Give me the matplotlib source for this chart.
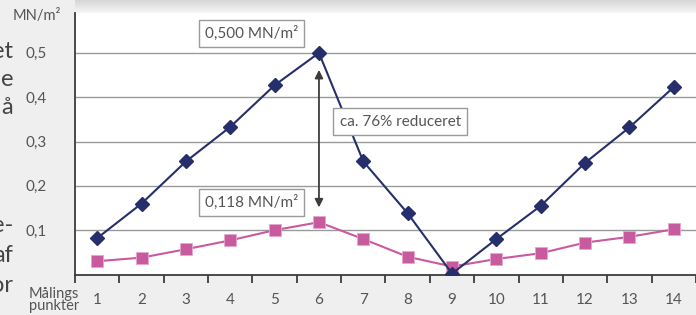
import matplotlib
matplotlib.use("Agg")
import matplotlib.pyplot as plt
import numpy as np
from matplotlib.colors import LinearSegmentedColormap

points = list(range(1, 15))
before = [0.082, 0.160, 0.255, 0.333, 0.427, 0.500, 0.255, 0.138, 0.002, 0.080, 0.155, 0.252, 0.332, 0.423]
after = [0.030, 0.038, 0.057, 0.077, 0.100, 0.118, 0.080, 0.040, 0.018, 0.035, 0.048, 0.072, 0.085, 0.102]
ytick_vals = [0.1, 0.2, 0.3, 0.4, 0.5]
ytick_labels = ["0,1", "0,2", "0,3", "0,4", "0,5"]

FONT = ["Lato", "DejaVu Sans"]
plt.rcParams['font.family'] = FONT

W, H = 696, 315
fig = plt.figure(figsize=(W / 100, H / 100), dpi=100)
fig.patch.set_facecolor("#efefef")

# top shadow gradient
gax = fig.add_axes([75 / W, 1 - 13 / H, 621 / W, 13 / H])
grad = np.linspace(0, 1, 50).reshape(-1, 1)
cm = LinearSegmentedColormap.from_list("g", ["#d6d6d6", "#f6f6f6"])
gax.imshow(grad, aspect="auto", cmap=cm, extent=[0, 1, 1, 0])
gax.axis("off")

ax = fig.add_axes([75 / W, (H - 274.5) / H, 621 / W, (274.5 - 13) / H])
ax.set_facecolor("white")
ax.set_xlim(0.5, 14.5)
ax.set_ylim(0, 0.59)

for v in ytick_vals:
    ax.axhline(v, color="#9a9a9a", lw=1.0, zorder=1)

navy = "#262f6b"
pink = "#c85a9e"
ax.plot(points, after, color=pink, lw=1.5, marker="s", ms=8, mec="#e8a6cf", mew=0.6, zorder=3)
ax.plot(points, before, color=navy, lw=1.5, marker="D", ms=7, mec=navy, zorder=4)

for s in ["top", "right"]:
    ax.spines[s].set_visible(False)
for s in ["left", "bottom"]:
    ax.spines[s].set_color("#3c3c3c")
    ax.spines[s].set_linewidth(1.3)

ax.set_yticks(ytick_vals)
ax.set_yticklabels(ytick_labels)
ax.tick_params(axis="y", length=0, pad=20, labelsize=11, colors="#555555")
ax.set_xticks(points)
ax.set_xticklabels([str(p) for p in points])
ax.tick_params(axis="x", which="major", length=0, pad=13, labelsize=11, colors="#555555")
ax.set_xticks(np.arange(0.5, 14.6, 1.0), minor=True)
ax.tick_params(axis="x", which="minor", length=6, width=1.3, color="#3c3c3c", direction="out")

# annotations
bbox = dict(boxstyle="square,pad=0.4", fc="white", ec="#9a9a9a", lw=1.0)
ax.text(4.48, 0.543, "0,500 MN/m²", ha="center", va="center", fontsize=11, color="#555555", bbox=bbox, zorder=6)
ax.text(4.48, 0.162, "0,118 MN/m²", ha="center", va="center", fontsize=11, color="#555555", bbox=bbox, zorder=6)
ax.text(7.83, 0.345, "ca. 76% reduceret", ha="center", va="center", fontsize=11, color="#555555", bbox=bbox, zorder=6)
ax.annotate("", xy=(6.0, 0.468), xytext=(6.0, 0.145),
            arrowprops=dict(arrowstyle="<|-|>", color="#3c3c3c", lw=1.3, mutation_scale=12), zorder=5)

# labels outside
fig.text(37 / W, 1 - 16 / H, "MN/m²", ha="center", va="center", fontsize=10.5, color="#555555")
fig.text(54 / W, 1 - 300 / H, "Målings\npunkter", ha="center", va="center", fontsize=10.5,
         color="#555555", linespacing=0.85)

# cut-off body text at left
frag = [("et", 52), ("e", 80), ("å", 108), ("e-", 226), ("af", 256), ("or", 286)]
for t, y in frag:
    fig.text(13 / W, 1 - y / H, t, ha="right", va="center", fontsize=17, color="#444444")

fig.savefig("out.png", dpi=100, facecolor=fig.get_facecolor())
